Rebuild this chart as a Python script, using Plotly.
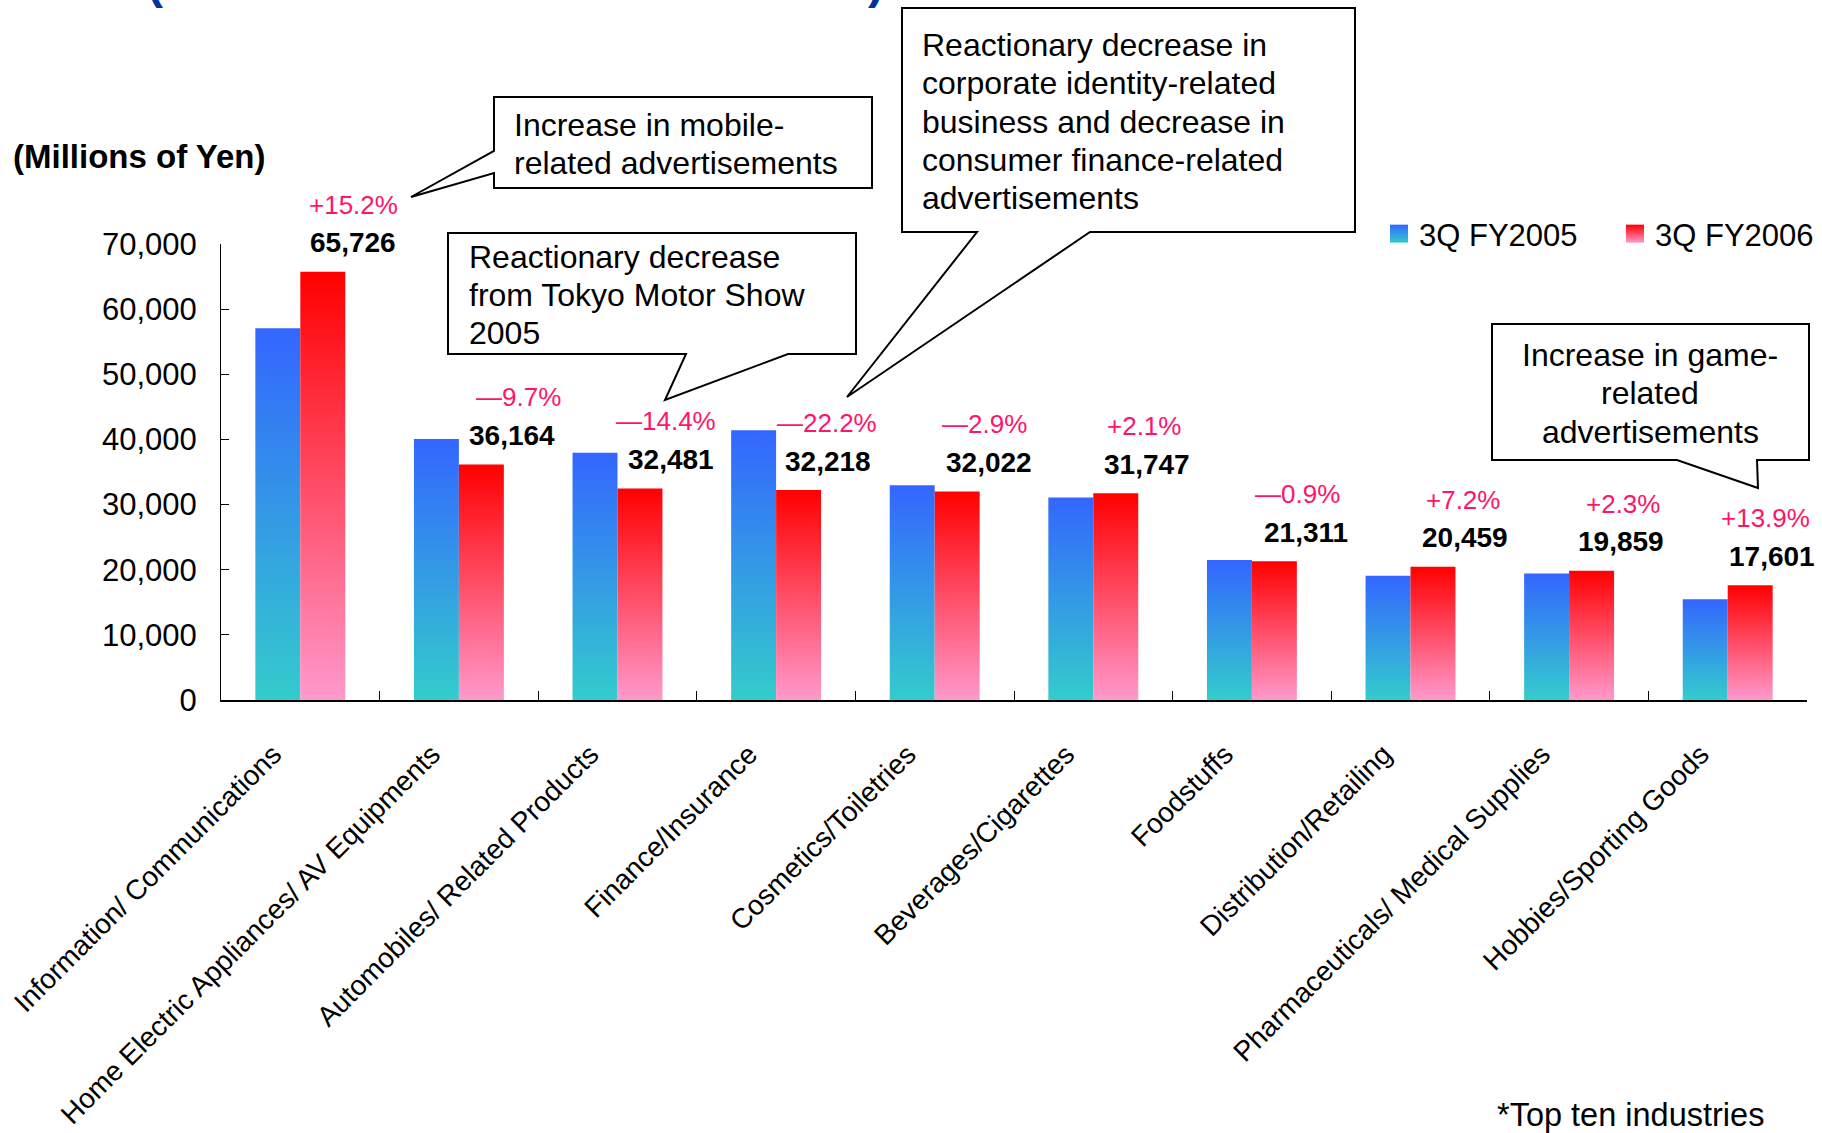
import plotly.graph_objects as go

# ---------------- data ----------------
categories = [
    "Information/ Communications",
    "Home Electric Appliances/ AV Equipments",
    "Automobiles/ Related Products",
    "Finance/Insurance",
    "Cosmetics/Toiletries",
    "Beverages/Cigarettes",
    "Foodstuffs",
    "Distribution/Retailing",
    "Pharmaceuticals/ Medical Supplies",
    "Hobbies/Sporting Goods",
]
fy2005 = [57050, 40050, 37950, 41400, 32980, 31090, 21500, 19080, 19410, 15450]
fy2006 = [65726, 36164, 32481, 32218, 32022, 31747, 21311, 20459, 19859, 17601]
value_labels = ["65,726", "36,164", "32,481", "32,218", "32,022",
                "31,747", "21,311", "20,459", "19,859", "17,601"]
pct_labels = ["+15.2%", "—9.7%", "—14.4%", "—22.2%", "—2.9%",
              "+2.1%", "—0.9%", "+7.2%", "+2.3%", "+13.9%"]
series_names = ["3Q FY2005", "3Q FY2006"]
y_ticks = [0, 10000, 20000, 30000, 40000, 50000, 60000, 70000]

callout_mobile = ["Increase in mobile-", "related advertisements"]
callout_motor = ["Reactionary decrease", "from Tokyo Motor Show", "2005"]
callout_ci = ["Reactionary decrease in", "corporate identity-related",
              "business and decrease in", "consumer finance-related",
              "advertisements"]
callout_game = ["Increase in game-", "related", "advertisements"]

# ---------------- layout helpers ----------------
W, H = 1822, 1133
L, R, T, B = 221, 1807, 244, 700
FONT = "Liberation Sans, Arial, Helvetica, sans-serif"


def px(x):
    return (x - L) / (R - L)


def py(y):
    return (B - y) / (B - T)


def path(points):
    return "M " + " L ".join(f"{px(x):.5f},{py(y):.5f}" for x, y in points) + " Z"


fig = go.Figure()
fig.add_trace(go.Bar(name=series_names[0], x=categories, y=fy2005,
                     marker=dict(color="#3366FF", line=dict(width=0))))
fig.add_trace(go.Bar(name=series_names[1], x=categories, y=fy2006,
                     marker=dict(color="#FF0000", line=dict(width=0))))

annotations = []
# value + percentage labels (pixel offsets from the category centre)
val_xshift = [53, 53, 53, 52, 54, 54, 54, 54, 52, 44]
pct_xshift = [53, 60, 48, 51, 50, 51, 46, 52, 54, 38]
for i, c in enumerate(categories):
    annotations.append(dict(x=c, y=fy2006[i], xref="x", yref="y", text=value_labels[i],
                            showarrow=False, xshift=val_xshift[i], yshift=29,
                            yanchor="middle",
                            font=dict(family=FONT, size=28, color="#000000", weight="bold")))
    annotations.append(dict(x=c, y=fy2006[i], xref="x", yref="y", text=pct_labels[i],
                            showarrow=False, xshift=pct_xshift[i], yshift=67,
                            yanchor="middle",
                            font=dict(family=FONT, size=26, color="#FF1469")))

# callout boxes
shapes = []
callouts = [
    (callout_mobile, [(494, 97), (872, 97), (872, 188), (494, 188), (494, 173), (411, 197), (494, 151)],
     512, [125, 163], "left"),
    (callout_motor, [(448, 233), (856, 233), (856, 354), (788, 354), (665, 400), (686, 354), (448, 354)],
     467, [257, 295, 333], "left"),
    (callout_ci, [(902, 8), (1355, 8), (1355, 232), (1090, 232), (847, 397), (977, 232), (902, 232)],
     920, [45, 83, 122, 160, 198], "left"),
    (callout_game, [(1492, 324), (1809, 324), (1809, 460), (1757, 460), (1758, 488), (1677, 460), (1492, 460)],
     1650, [355, 393, 432], "center"),
]
for lines, pts, tx, tys, anchor in callouts:
    shapes.append(dict(type="path", xref="paper", yref="paper", path=path(pts),
                       fillcolor="white", line=dict(color="#000000", width=2), layer="above"))
    for line, ty in zip(lines, tys):
        annotations.append(dict(x=px(tx), y=py(ty), xref="paper", yref="paper", text=line,
                                showarrow=False, xanchor=anchor, yanchor="middle",
                                font=dict(family=FONT, size=32, color="#000000")))

# axis unit label
annotations.append(dict(x=px(11), y=py(157), xref="paper", yref="paper", text="(Millions of Yen)",
                        showarrow=False, xanchor="left", yanchor="middle",
                        font=dict(family=FONT, size=33, color="#000000", weight="bold")))
# footnote
annotations.append(dict(x=px(1495), y=py(1115), xref="paper", yref="paper", text="*Top ten industries",
                        showarrow=False, xanchor="left", yanchor="middle",
                        font=dict(family=FONT, size=32.5, color="#000000")))
# remnants of the cut-off slide title
for ch, cx in [("(", 155), (")", 876)]:
    annotations.append(dict(x=px(cx), y=py(-19), xref="paper", yref="paper", text=ch,
                            showarrow=False, xanchor="center", yanchor="middle",
                            font=dict(family=FONT, size=48, color="#0033A0", weight="bold")))

fig.update_layout(
    width=W, height=H,
    margin=dict(l=L, r=W - R, t=T, b=H - B, pad=0, autoexpand=False),
    paper_bgcolor="white", plot_bgcolor="white",
    barmode="group", bargap=0.433, bargroupgap=0,
    font=dict(family=FONT, size=28, color="#000000"),
    showlegend=True,
    legend=dict(orientation="h", x=px(1379), xanchor="left", y=py(207), yanchor="top",
                font=dict(family=FONT, size=31, color="#000000"),
                entrywidth=191, bgcolor="rgba(0,0,0,0)", traceorder="normal"),
    xaxis=dict(type="category", range=[-0.5, len(categories) - 0.5], autorange=False,
               showline=True, linecolor="#000000", linewidth=1.5,
               ticks="inside", ticklen=9, tickcolor="#000000", tickson="boundaries",
               tickangle=-45, tickfont=dict(family=FONT, size=28, color="#000000"),
               ticklabelshift=-27, ticklabelstandoff=25,
               showgrid=False, zeroline=False, automargin=False),
    yaxis=dict(range=[0, 70000], autorange=False, tickvals=y_ticks, tickformat=",", showline=True,
               linecolor="#000000", linewidth=1, ticks="inside", ticklen=8,
               tickcolor="#000000", tickfont=dict(family=FONT, size=31, color="#000000"),
               ticklabelstandoff=17, showgrid=False, zeroline=False, automargin=False),
    annotations=annotations,
    shapes=shapes,
)

post = """
var gd = document.getElementById('{plot_id}');
var ns = 'http://www.w3.org/2000/svg';
var svg = gd.querySelector('svg.main-svg');
var defs = svg.querySelector('defs');
if (!defs) { defs = document.createElementNS(ns, 'defs'); svg.insertBefore(defs, svg.firstChild); }
function mk(id, c1, c2) {
  var g = document.createElementNS(ns, 'linearGradient');
  g.setAttribute('id', id); g.setAttribute('x1', '0'); g.setAttribute('y1', '0');
  g.setAttribute('x2', '0'); g.setAttribute('y2', '1');
  [[0, c1], [1, c2]].forEach(function (s) {
    var st = document.createElementNS(ns, 'stop');
    st.setAttribute('offset', s[0]); st.setAttribute('stop-color', s[1]);
    g.appendChild(st);
  });
  defs.appendChild(g);
}
mk('gradBlue', '#3366FF', '#33CCCC');
mk('gradRed', '#FF0000', '#FF99CC');
var ids = ['gradBlue', 'gradRed'];
function paint() {
  var tr = gd.querySelectorAll('.barlayer .trace');
  tr.forEach(function (t, i) {
    t.querySelectorAll('path').forEach(function (p) { p.style.fill = 'url(#' + ids[i] + ')'; });
  });
  var lt = gd.querySelectorAll('.legend .traces');
  lt.forEach(function (t, i) {
    t.querySelectorAll('.legendpoints path').forEach(function (p) {
      p.setAttribute('d', 'M9,9H-9V-9H9Z');
      p.style.fill = 'url(#' + ids[i] + ')';
    });
  });
}
paint();
gd.on('plotly_afterplot', paint);
"""

fig.write_html("out.html", post_script=post)
